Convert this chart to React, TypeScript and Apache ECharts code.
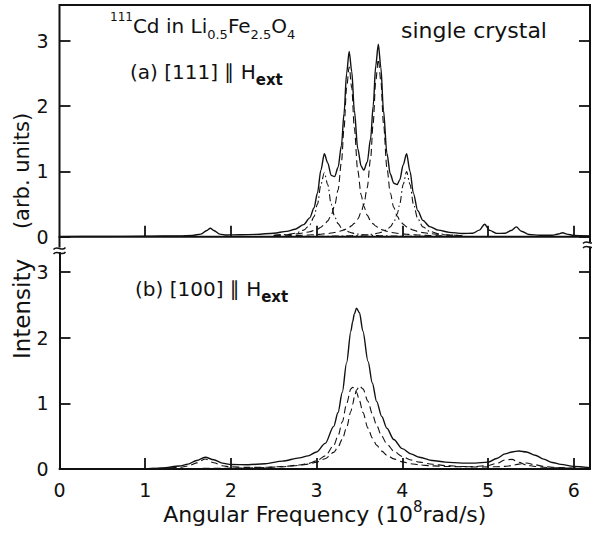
import { useEffect, useRef } from 'react';
import * as echarts from 'echarts';

const FONT = '"DejaVu Sans", sans-serif';
const INK = '#111';

// ---- tick values ----
const xTickValues = [1, 2, 3, 4, 5, 6];
const xLabelValues = [0, 1, 2, 3, 4, 5, 6];
const yTickValues = [0, 1, 2, 3];

// ---- (a) [111] || Hext : total spectrum ----
const freqTop = [
  0, 0.5, 1.0, 1.4, 1.55, 1.65, 1.72, 1.76, 1.8, 1.87, 1.95, 2.1, 2.3,
  2.5, 2.65, 2.75, 2.85, 2.92, 2.97, 3.01, 3.05, 3.09, 3.13, 3.17, 3.21, 3.25, 3.29, 3.32, 3.35,
  3.38, 3.41, 3.44, 3.48, 3.52, 3.55, 3.59, 3.63, 3.66, 3.69, 3.72, 3.75, 3.78, 3.82, 3.86, 3.9,
  3.94, 3.97, 4.01, 4.05, 4.09, 4.13, 4.18, 4.24, 4.32, 4.42, 4.55, 4.7,
  4.82, 4.9, 4.96, 5.02, 5.1, 5.2, 5.27, 5.33, 5.39, 5.48, 5.6, 5.75, 5.82, 5.87, 5.92, 6.0, 6.19,
];
const totalTop = [
  0, 0.003, 0.007, 0.013, 0.021, 0.04, 0.095, 0.13, 0.095, 0.04, 0.025, 0.03, 0.035,
  0.054, 0.081, 0.115, 0.185, 0.289, 0.44, 0.67, 1.02, 1.27, 1.13, 0.94, 0.92, 1.06, 1.4, 1.89, 2.5,
  2.84, 2.53, 1.94, 1.35, 1.08, 1.02, 1.14, 1.5, 2.0, 2.62, 2.95, 2.59, 1.94, 1.28, 0.96, 0.82,
  0.8, 0.87, 1.1, 1.27, 1.0, 0.66, 0.4, 0.25, 0.155, 0.1, 0.066, 0.05,
  0.052, 0.1, 0.19, 0.097, 0.051, 0.052, 0.094, 0.15, 0.083, 0.034, 0.022, 0.022, 0.041, 0.061, 0.04, 0.019, 0.01,
];

// ---- (a) components ----
const freqTopComp = [
  2.5, 2.65, 2.75, 2.85, 2.92, 2.97, 3.01, 3.05, 3.09, 3.13, 3.17, 3.21, 3.25, 3.29, 3.32, 3.35,
  3.38, 3.41, 3.44, 3.48, 3.52, 3.55, 3.59, 3.63, 3.66, 3.69, 3.72, 3.75, 3.78, 3.82, 3.86, 3.9,
  3.94, 3.97, 4.01, 4.05, 4.09, 4.13, 4.18, 4.24, 4.32, 4.42, 4.55, 4.7,
];
const compTop309 = [
  0.018, 0.032, 0.053, 0.1, 0.181, 0.308, 0.5, 0.8, 0.98, 0.8, 0.5, 0.308, 0.2, 0.138, 0.108, 0.087,
  0.071, 0.059, 0.05, 0.04, 0.033, 0.029, 0.025, 0.022, 0.019, 0.018, 0.016, 0.015, 0.013, 0.012, 0.011, 0.01,
  0.009, 0.008, 0.008, 0.007, 0.006, 0.006, 0.005, 0.005, 0.004, 0.004, 0.003, 0.002,
];
const compTop338 = [
  0.021, 0.031, 0.041, 0.058, 0.076, 0.095, 0.116, 0.144, 0.184, 0.242, 0.33, 0.471, 0.715, 1.147, 1.664, 2.28,
  2.6, 2.28, 1.664, 1.014, 0.64, 0.471, 0.33, 0.242, 0.196, 0.163, 0.137, 0.116, 0.1, 0.083, 0.07, 0.06,
  0.052, 0.047, 0.041, 0.037, 0.033, 0.029, 0.026, 0.022, 0.019, 0.015, 0.012, 0.01,
];
const compTop372 = [
  0.012, 0.015, 0.018, 0.023, 0.027, 0.031, 0.034, 0.038, 0.043, 0.049, 0.056, 0.065, 0.077, 0.091, 0.105, 0.121,
  0.143, 0.17, 0.205, 0.272, 0.375, 0.492, 0.748, 1.2, 1.741, 2.385, 2.72, 2.385, 1.741, 1.061, 0.669, 0.449,
  0.318, 0.253, 0.192, 0.151, 0.121, 0.1, 0.08, 0.063, 0.048, 0.035, 0.025, 0.018,
];
const compTop405 = [
  0.003, 0.003, 0.004, 0.004, 0.005, 0.006, 0.006, 0.006, 0.007, 0.008, 0.008, 0.009, 0.01, 0.011, 0.012, 0.013,
  0.014, 0.015, 0.017, 0.019, 0.022, 0.025, 0.029, 0.035, 0.04, 0.047, 0.056, 0.066, 0.081, 0.108, 0.151, 0.221,
  0.346, 0.5, 0.8, 1.0, 0.8, 0.5, 0.275, 0.151, 0.081, 0.045, 0.025, 0.015,
];

// ---- (b) [100] || Hext ----
const freqBottom = [
  0, 0.5, 1.0, 1.2, 1.4, 1.5, 1.6, 1.7, 1.8, 1.9, 2.0, 2.2, 2.4, 2.6, 2.8, 2.9, 3.0, 3.1, 3.2, 3.25,
  3.3, 3.35, 3.4, 3.42, 3.44, 3.466, 3.5, 3.54, 3.6, 3.65, 3.7, 3.76, 3.82, 3.9, 4.0, 4.1, 4.2, 4.35,
  4.5, 4.7, 4.85, 5.0, 5.1, 5.2, 5.28, 5.36, 5.45, 5.55, 5.65, 5.75, 5.85, 6.0, 6.19,
];
const totalBottom = [
  0, 0, 0.005, 0.015, 0.045, 0.075, 0.13, 0.18, 0.14, 0.09, 0.068, 0.065, 0.08, 0.12, 0.17, 0.2, 0.26, 0.39, 0.65, 0.86,
  1.17, 1.62, 2.1, 2.24, 2.36, 2.45, 2.38, 2.1, 1.64, 1.31, 1.03, 0.8, 0.62, 0.45, 0.31, 0.23, 0.18, 0.13,
  0.105, 0.09, 0.09, 0.105, 0.16, 0.23, 0.26, 0.275, 0.26, 0.21, 0.15, 0.1, 0.07, 0.04, 0.02,
];
const compBottom342 = [
  0.002, 0.004, 0.008, 0.012, 0.026, 0.045, 0.093, 0.153, 0.095, 0.049, 0.032, 0.024, 0.027, 0.036, 0.06, 0.084, 0.125, 0.2, 0.359, 0.504,
  0.718, 0.996, 1.22, 1.245, 1.23, 1.169, 1.04, 0.862, 0.623, 0.473, 0.364, 0.272, 0.21, 0.154, 0.109, 0.081, 0.063, 0.048,
  0.039, 0.034, 0.036, 0.053, 0.084, 0.139, 0.147, 0.102, 0.06, 0.038, 0.026, 0.02, 0.016, 0.012, 0.009,
];
const compBottom350 = [
  0.002, 0.003, 0.005, 0.005, 0.006, 0.007, 0.008, 0.009, 0.01, 0.011, 0.013, 0.016, 0.023, 0.034, 0.055, 0.074, 0.104, 0.156, 0.253, 0.335,
  0.455, 0.633, 0.876, 0.985, 1.09, 1.203, 1.265, 1.221, 1.031, 0.838, 0.663, 0.499, 0.381, 0.273, 0.19, 0.138, 0.105, 0.073,
  0.053, 0.038, 0.03, 0.032, 0.034, 0.04, 0.053, 0.075, 0.091, 0.064, 0.039, 0.027, 0.021, 0.016, 0.013,
];

const zip = (xs: number[], ys: number[]) => xs.map((x, i) => [x, ys[i]]);

const DASH = [7, 4];
const DASHDOT = [7, 3, 1.5, 3];

function lineSeries(x: number[], y: number[], gi: number, width: number, type: any) {
  return {
    type: 'line',
    xAxisIndex: gi,
    yAxisIndex: gi * 2,
    data: zip(x, y),
    showSymbol: false,
    symbol: 'none',
    smooth: 0.3,
    smoothMonotone: 'x',
    silent: true,
    lineStyle: { color: INK, width, type },
    z: 3,
  };
}

const richBase = {
  m: { fontSize: 20, fontFamily: FONT, lineHeight: 30, verticalAlign: 'middle', fill: INK, color: INK },
  sup: { fontSize: 12, fontFamily: FONT, lineHeight: 18, verticalAlign: 'top', fill: INK, color: INK },
  sub: { fontSize: 13, fontFamily: FONT, lineHeight: 14, verticalAlign: 'bottom', fill: INK, color: INK },
  ext: { fontSize: 15, fontFamily: FONT, fontWeight: 'bold', lineHeight: 24, verticalAlign: 'bottom', fill: INK, color: INK },
};

function richText(x: number, y: number, text: string) {
  return {
    type: 'text',
    x,
    y,
    silent: true,
    style: {
      text,
      rich: richBase,
      font: `20px ${FONT}`,
      fill: INK,
      align: 'left',
      verticalAlign: 'middle',
      textAlign: 'left',
      textVerticalAlign: 'middle',
    },
  };
}

function plainText(x: number, y: number, text: string, size: number, rotation = 0) {
  return {
    type: 'text',
    x,
    y,
    rotation,
    silent: true,
    style: {
      text,
      font: `${size}px ${FONT}`,
      fill: INK,
      align: 'center',
      verticalAlign: 'middle',
      textAlign: 'center',
      textVerticalAlign: 'middle',
    },
  };
}

function breakMark(cx: number, cy: number) {
  return {
    type: 'bezierCurve',
    silent: true,
    shape: { x1: cx - 6, y1: cy + 1, cpx1: cx - 2, cpy1: cy - 4, cpx2: cx + 2, cpy2: cy + 4, x2: cx + 6, y2: cy - 1 },
    style: { stroke: INK, lineWidth: 1.5, fill: 'none' },
  };
}

function vline(x: number, y1: number, y2: number) {
  return {
    type: 'line',
    silent: true,
    shape: { x1: x, y1, x2: x, y2 },
    style: { stroke: INK, lineWidth: 2 },
  };
}

const labelStyle = { fontSize: 19, fontFamily: FONT, color: INK };

function xAxisCfg(gi: number, withLabels: boolean) {
  return {
    type: 'value',
    gridIndex: gi,
    min: 0,
    max: 6.19,
    axisLine: { show: gi === 1, onZero: false, lineStyle: { color: INK, width: 2 } },
    axisTick: { show: true, inside: true, length: 11, customValues: xTickValues, lineStyle: { color: INK, width: 1.8 } },
    axisLabel: withLabels
      ? { show: true, customValues: xLabelValues, margin: 11, ...labelStyle }
      : { show: false },
    splitLine: { show: false },
    ...(withLabels
      ? {
          name: '{m|Angular Frequency (10}{sup|8}{m|rad/s)}',
          nameLocation: 'middle',
          nameGap: 30,
          nameTextStyle: {
            rich: {
              m: { fontSize: 22, fontFamily: FONT, color: INK, lineHeight: 30, verticalAlign: 'middle' },
              sup: { fontSize: 15, fontFamily: FONT, color: INK, lineHeight: 18, verticalAlign: 'top' },
            },
          },
        }
      : {}),
  };
}

function yAxisCfg(gi: number, max: number, position: 'left' | 'right') {
  return {
    type: 'value',
    gridIndex: gi,
    position,
    min: 0,
    max,
    axisLine: { show: gi === 1, onZero: false, lineStyle: { color: INK, width: 2 } },
    axisTick: { show: true, inside: true, length: 11, customValues: yTickValues, lineStyle: { color: INK, width: 1.8 } },
    axisLabel:
      position === 'left'
        ? { show: true, customValues: yTickValues, margin: 11, ...labelStyle }
        : { show: false },
    splitLine: { show: false },
  };
}

export default function App() {
  const ref = useRef<HTMLDivElement>(null);
  useEffect(() => {
    const chart = echarts.init(ref.current!, null, { renderer: 'svg' });
    const option: any = {
      animation: false,
      backgroundColor: '#fff',
      grid: [
        { left: 59.5, top: 5, width: 530.5, height: 231.7, show: true, borderColor: INK, borderWidth: 2, backgroundColor: 'transparent' },
        { left: 59.5, top: 253, width: 530.5, height: 216, show: false },
      ],
      xAxis: [xAxisCfg(0, false), xAxisCfg(1, true)],
      yAxis: [
        yAxisCfg(0, 3.55, 'left'),
        yAxisCfg(0, 3.55, 'right'),
        yAxisCfg(1, 3.29, 'left'),
        yAxisCfg(1, 3.29, 'right'),
      ],
      series: [
        lineSeries(freqTopComp, compTop309, 0, 1.1, DASHDOT),
        lineSeries(freqTopComp, compTop405, 0, 1.1, DASHDOT),
        lineSeries(freqTopComp, compTop338, 0, 1.1, DASH),
        lineSeries(freqTopComp, compTop372, 0, 1.1, DASH),
        lineSeries(freqTop, totalTop, 0, 1.4, 'solid'),
        lineSeries(freqBottom, compBottom342, 1, 1.1, DASH),
        lineSeries(freqBottom, compBottom350, 1, 1.1, DASH),
        lineSeries(freqBottom, totalBottom, 1, 1.4, 'solid'),
      ],
      graphic: [
        vline(59.5, 236, 247.5),
        vline(590, 236, 242),
        vline(590, 246.5, 253),
        breakMark(59.5, 248.5),
        breakMark(59.5, 253),
        breakMark(589, 242.5),
        breakMark(589, 247),
        plainText(22, 171, '(arb. units)', 21, Math.PI / 2),
        plainText(22, 309, 'Intensity', 23, Math.PI / 2),
        richText(110, 26, '{sup|111}{m|Cd in Li}{sub|0.5}{m|Fe}{sub|2.5}{m|O}{sub|4}'),
        plainText(474, 30, 'single crystal', 22),
        richText(130, 72, '{m|(a) [111] ∥ H}{ext|ext}'),
        richText(135, 289, '{m|(b) [100] ∥ H}{ext|ext}'),
      ],
    };
    chart.setOption(option);
    return () => chart.dispose();
  }, []);
  return (
    <div
      ref={ref}
      style={{ position: 'fixed', left: 0, top: 0, width: 592, height: 533, background: '#fff' }}
    />
  );
}
